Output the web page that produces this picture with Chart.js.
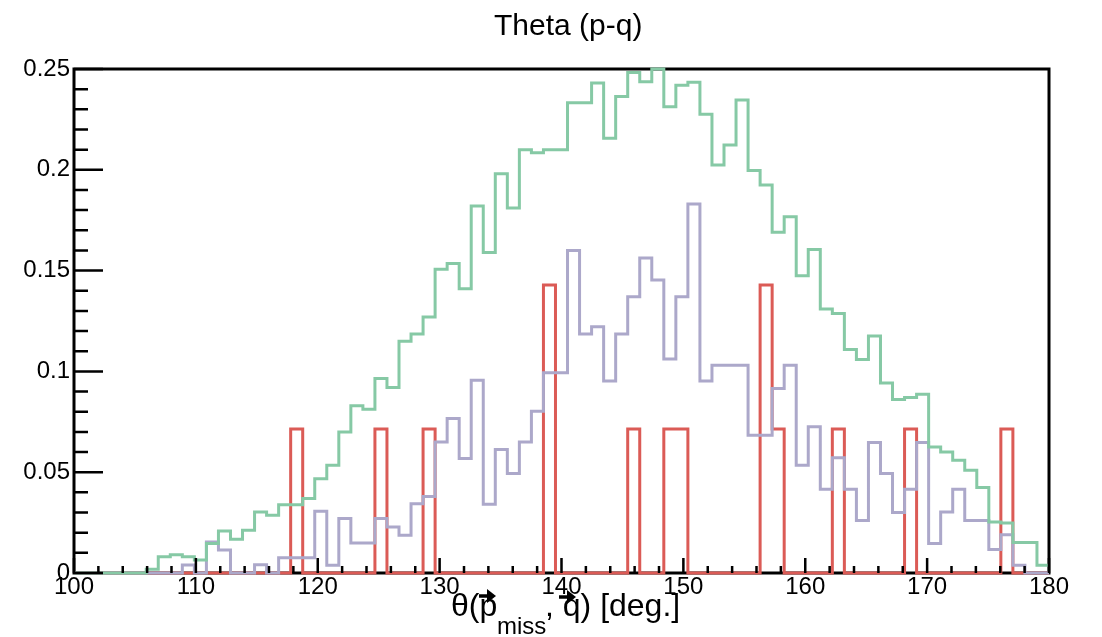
<!DOCTYPE html>
<html>
<head>
<meta charset="utf-8">
<script src="https://cdn.jsdelivr.net/npm/chart.js@4/dist/chart.umd.min.js"></script>
<style>
html,body{margin:0;padding:0;background:#fff;}
canvas{display:block;}
</style>
</head>
<body>
<canvas id="c" width="1102" height="637"></canvas>
<script>
// Histogram binning (x axis definition)
const binLow = 100, binHigh = 180, nBins = 81;

// Bin contents (81 bins each)
const greenValues = [
  0, 0, 0, 0, 0, 0, 0.0018, 0.0081, 0.009, 0.008,
  0.0065, 0.0146, 0.0208, 0.0168, 0.0212, 0.0303, 0.0286, 0.0338, 0.0338, 0.0369,
  0.0468, 0.0534, 0.070, 0.083, 0.0812, 0.0965, 0.092, 0.115, 0.1185, 0.127,
  0.1507, 0.1535, 0.141, 0.182, 0.159, 0.198, 0.181, 0.210, 0.2085, 0.210,
  0.210, 0.2333, 0.2333, 0.243, 0.2156, 0.2363, 0.2483, 0.2437, 0.250, 0.2313,
  0.242, 0.2434, 0.2275, 0.2024, 0.2123, 0.2346, 0.1997, 0.1924, 0.169, 0.1767,
  0.1474, 0.1605, 0.1309, 0.1287, 0.1109, 0.1059, 0.1175, 0.0943, 0.086, 0.087,
  0.0887, 0.0625, 0.060, 0.0559, 0.051, 0.0424, 0.0253, 0.0248, 0.0151, 0.0151,
  0.0038
];
const purpleValues = [
  0, 0, 0, 0, 0, 0, 0, 0, 0, 0.004,
  0, 0.0154, 0.0114, 0, 0, 0.0041, 0, 0.0076, 0.0076, 0.0076,
  0.0306, 0.0038, 0.027, 0.0149, 0.0149, 0.027, 0.0228, 0.0187, 0.0344, 0.038,
  0.065, 0.0766, 0.0568, 0.0956, 0.0341, 0.0612, 0.0493, 0.065, 0.0802, 0.0993,
  0.0993, 0.160, 0.1185, 0.1221, 0.0953, 0.1185, 0.137, 0.1563, 0.1453, 0.1062,
  0.137, 0.183, 0.0953, 0.1031, 0.1031, 0.1031, 0.0683, 0.0683, 0.0915, 0.1031,
  0.0534, 0.0725, 0.0415, 0.0572, 0.0415, 0.0261, 0.0647, 0.0493, 0.030, 0.0415,
  0.0647, 0.0146, 0.0303, 0.0415, 0.0261, 0.0261, 0.0116, 0.019, 0.0038, 0,
  0
];
const redValues = [
  0, 0, 0, 0, 0, 0, 0, 0, 0, 0,
  0, 0, 0, 0, 0, 0, 0, 0, 0.0714, 0,
  0, 0, 0, 0, 0, 0.0714, 0, 0, 0, 0.0714,
  0, 0, 0, 0, 0, 0, 0, 0, 0, 0.1429,
  0, 0, 0, 0, 0, 0, 0.0714, 0, 0, 0.0714,
  0.0714, 0, 0, 0, 0, 0, 0, 0.1429, 0.0714, 0,
  0, 0, 0, 0.0714, 0, 0, 0, 0, 0, 0.0714,
  0, 0, 0, 0, 0, 0, 0, 0.0714, 0, 0,
  0
];

// Axis tick definitions
const xMajorTicks = [100, 110, 120, 130, 140, 150, 160, 170, 180];
const yMajorTicks = [0, 0.05, 0.1, 0.15, 0.2, 0.25];
const titleText = "Theta (p-q)";

const FONT = '"Liberation Sans", Arial, Helvetica, sans-serif';

function histPoints(vals) {
  const w = (binHigh - binLow) / nBins;
  const pts = vals.map((v, k) => ({ x: binLow + k * w, y: v }));
  pts.push({ x: binHigh, y: vals[vals.length - 1] });
  return pts;
}

const framePlugin = {
  id: 'rootFrame',
  beforeDatasetsDraw(chart) {
    const { ctx, chartArea: a } = chart;
    ctx.save();
    ctx.strokeStyle = '#000';
    ctx.lineWidth = 3;
    ctx.strokeRect(a.left, a.top, a.right - a.left, a.bottom - a.top);
    ctx.restore();
  },
  afterDatasetsDraw(chart) {
    const { ctx, chartArea: a, scales } = chart;
    const xs = scales.x, ys = scales.y;
    ctx.save();
    ctx.strokeStyle = '#000';
    ctx.lineWidth = 2.5;
    ctx.beginPath();
    for (let v = 100; v <= 180; v += 2) {
      const px = xs.getPixelForValue(v);
      const major = (v % 10 === 0);
      ctx.moveTo(px, a.bottom);
      ctx.lineTo(px, a.bottom - (major ? 15 : 7));
    }
    for (let i = 0; i <= 25; i++) {
      const v = i / 100;
      const py = ys.getPixelForValue(v);
      const major = (i % 5 === 0);
      ctx.moveTo(a.left, py);
      ctx.lineTo(a.left + (major ? 29 : 14), py);
    }
    ctx.stroke();

    // title
    ctx.fillStyle = '#000';
    ctx.font = '30px ' + FONT;
    ctx.textAlign = 'left';
    ctx.textBaseline = 'alphabetic';
    ctx.fillText(titleText, 494, 35);

    // x-axis title: θ(p_miss, q) [deg.] with vector arrows
    ctx.font = '32px ' + FONT;
    ctx.fillText('θ(p', 451, 616);
    ctx.font = '24px ' + FONT;
    ctx.fillText('miss', 497, 634);
    ctx.font = '32px ' + FONT;
    ctx.fillText(', q) [deg.]', 545, 616);
    function arrow(x0, x1, y) {
      ctx.beginPath();
      ctx.lineWidth = 3.5;
      ctx.moveTo(x0, y);
      ctx.lineTo(x1 - 5, y);
      ctx.stroke();
      ctx.beginPath();
      ctx.moveTo(x1, y);
      ctx.lineTo(x1 - 9, y - 7);
      ctx.lineTo(x1 - 9, y + 7);
      ctx.closePath();
      ctx.fill();
    }
    arrow(479, 496, 596);
    arrow(559, 576, 597);
    ctx.restore();
  }
};

const ds = (label, vals, color) => ({
  label,
  data: histPoints(vals),
  borderColor: color,
  borderWidth: 3,
  pointRadius: 0,
  pointHoverRadius: 0,
  fill: false,
  stepped: true,
  tension: 0,
  clip: 6
});

new Chart(document.getElementById('c'), {
  type: 'line',
  data: {
    datasets: [
      ds('green', greenValues, '#86c9a5'),
      ds('purple', purpleValues, '#aca8ca'),
      ds('red', redValues, '#db5b56')
    ]
  },
  options: {
    responsive: false,
    devicePixelRatio: 1,
    animation: false,
    events: [],
    layout: { padding: { top: 69, right: 53, left: 0, bottom: 0 } },
    plugins: { legend: { display: false }, title: { display: false }, tooltip: { enabled: false } },
    scales: {
      x: {
        type: 'linear',
        min: binLow,
        max: binHigh,
        afterFit(s) { s.height = 64; },
        afterBuildTicks(s) { s.ticks = xMajorTicks.map(v => ({ value: v })); },
        grid: { display: false, drawTicks: false },
        border: { display: false },
        ticks: {
          color: '#000',
          font: { size: 24, family: FONT },
          padding: 0,
          maxRotation: 0,
          autoSkip: false,
          callback: v => String(v)
        }
      },
      y: {
        type: 'linear',
        min: 0,
        max: 0.25,
        afterFit(s) { s.width = 74; },
        afterBuildTicks(s) { s.ticks = yMajorTicks.map(v => ({ value: v })); },
        grid: { display: false, drawTicks: false },
        border: { display: false },
        ticks: {
          color: '#000',
          font: { size: 24, family: FONT },
          padding: 4,
          autoSkip: false,
          callback: v => String(Math.round(v * 100) / 100)
        }
      }
    }
  },
  plugins: [framePlugin]
});
</script>
</body>
</html>
